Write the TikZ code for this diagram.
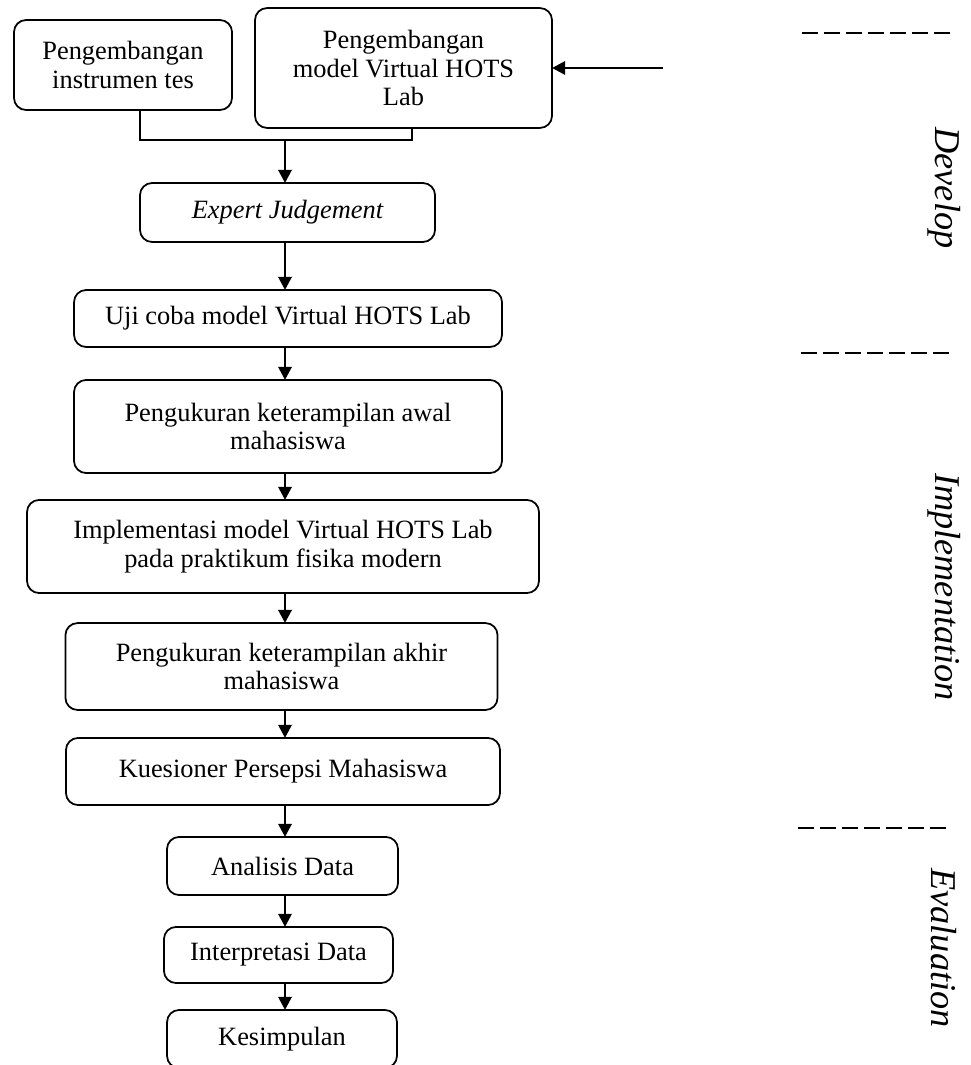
\documentclass[tikz,border=0pt]{standalone}
\usepackage{fontspec}
\setmainfont{Liberation Serif}
\usepackage{tikz}
\usetikzlibrary{arrows.meta,positioning}

\begin{document}
\begin{tikzpicture}[x=0.4545pt,y=-0.4545pt,
  box/.style={draw,rounded corners=5.5pt,line width=0.8pt,inner sep=0pt,outer sep=0pt,
    align=center,font=\fontsize{12}{13}\selectfont},
  link/.style={line width=0.8pt},
  flow/.style={line width=1.3pt,-{Triangle[length=6pt,width=6pt]}},
  phase/.style={line width=1.1pt,dash pattern=on 7.3pt off 2.7pt},
  stage/.style={rotate=-90,font=\fontsize{16.5}{18}\selectfont\itshape}]
\useasboundingbox (0,0) rectangle (970,1065);
\clip (0,0) rectangle (970,1065);
% Drawing boxes
\node[box,minimum width=99.1pt,minimum height=40.9pt] (instr) at (123,65) {Pengembangan\\instrumen tes};
\node[box,minimum width=135pt,minimum height=54.5pt] (model) at (403.5,68) {Pengembangan\\model Virtual HOTS\\Lab};
\node[box,minimum width=134.1pt,minimum height=26.8pt] (expert) at (287.5,212.5) {\itshape Expert Judgement};
\node[box,minimum width=194.5pt,minimum height=25.9pt] (ujicoba) at (288,318.5) {Uji coba model Virtual HOTS Lab};
\node[box,minimum width=194.5pt,minimum height=42.3pt] (awal) at (288,426.5) {Pengukuran keterampilan awal\\mahasiswa};
\node[box,minimum width=232.7pt,minimum height=42.3pt] (implem) at (283,546.5) {Implementasi model Virtual HOTS Lab\\pada praktikum fisika modern};
\node[box,minimum width=196.4pt,minimum height=39.5pt] (akhir) at (281.5,666.5) {Pengukuran keterampilan akhir\\mahasiswa};
\node[box,minimum width=197.3pt,minimum height=30.5pt] (kuesioner) at (283,771.5) {Kuesioner Persepsi Mahasiswa};
\node[box,minimum width=105pt,minimum height=26.4pt] (analisis) at (282.5,866) {Analisis Data};
\node[box,minimum width=104.1pt,minimum height=25.5pt] (interp) at (278.5,955) {Interpretasi Data};
\node[box,minimum width=104.5pt,minimum height=26.4pt] (simpul) at (282,1039) {Kesimpulan};
% Done with boxes; drawing arrows
\coordinate (spine) at (285,0);
\coordinate (jl) at (140,0);
\coordinate (jr) at (412,0);
\coordinate (join) at (285,140);
\coordinate (feed) at (663,68);
\draw[link] (instr.south -| jl) |- (join) -| (model.south -| jr);
\draw[flow] (join) -- (expert.north -| spine);
\draw[flow] (feed) -- (model.east |- feed);
\foreach \a/\b in {expert/ujicoba,ujicoba/awal,awal/implem,implem/akhir,akhir/kuesioner,
                   kuesioner/analisis,analisis/interp,interp/simpul}
  \draw[flow] (\a.south -| spine) -- (\b.north -| spine);
% Done with arrows; drawing phase marks
\foreach \y/\xa in {33/802,353/801,828/798}
  \draw[phase] (\xa,\y) -- ++(150,0);
\node[stage] (develop) at (944,188) {Develop};
\node[stage] (implementation) at (944,587) {Implementation};
\node[stage] (evaluation) at (944,948) {Evaluation};
\end{tikzpicture}
\end{document}
